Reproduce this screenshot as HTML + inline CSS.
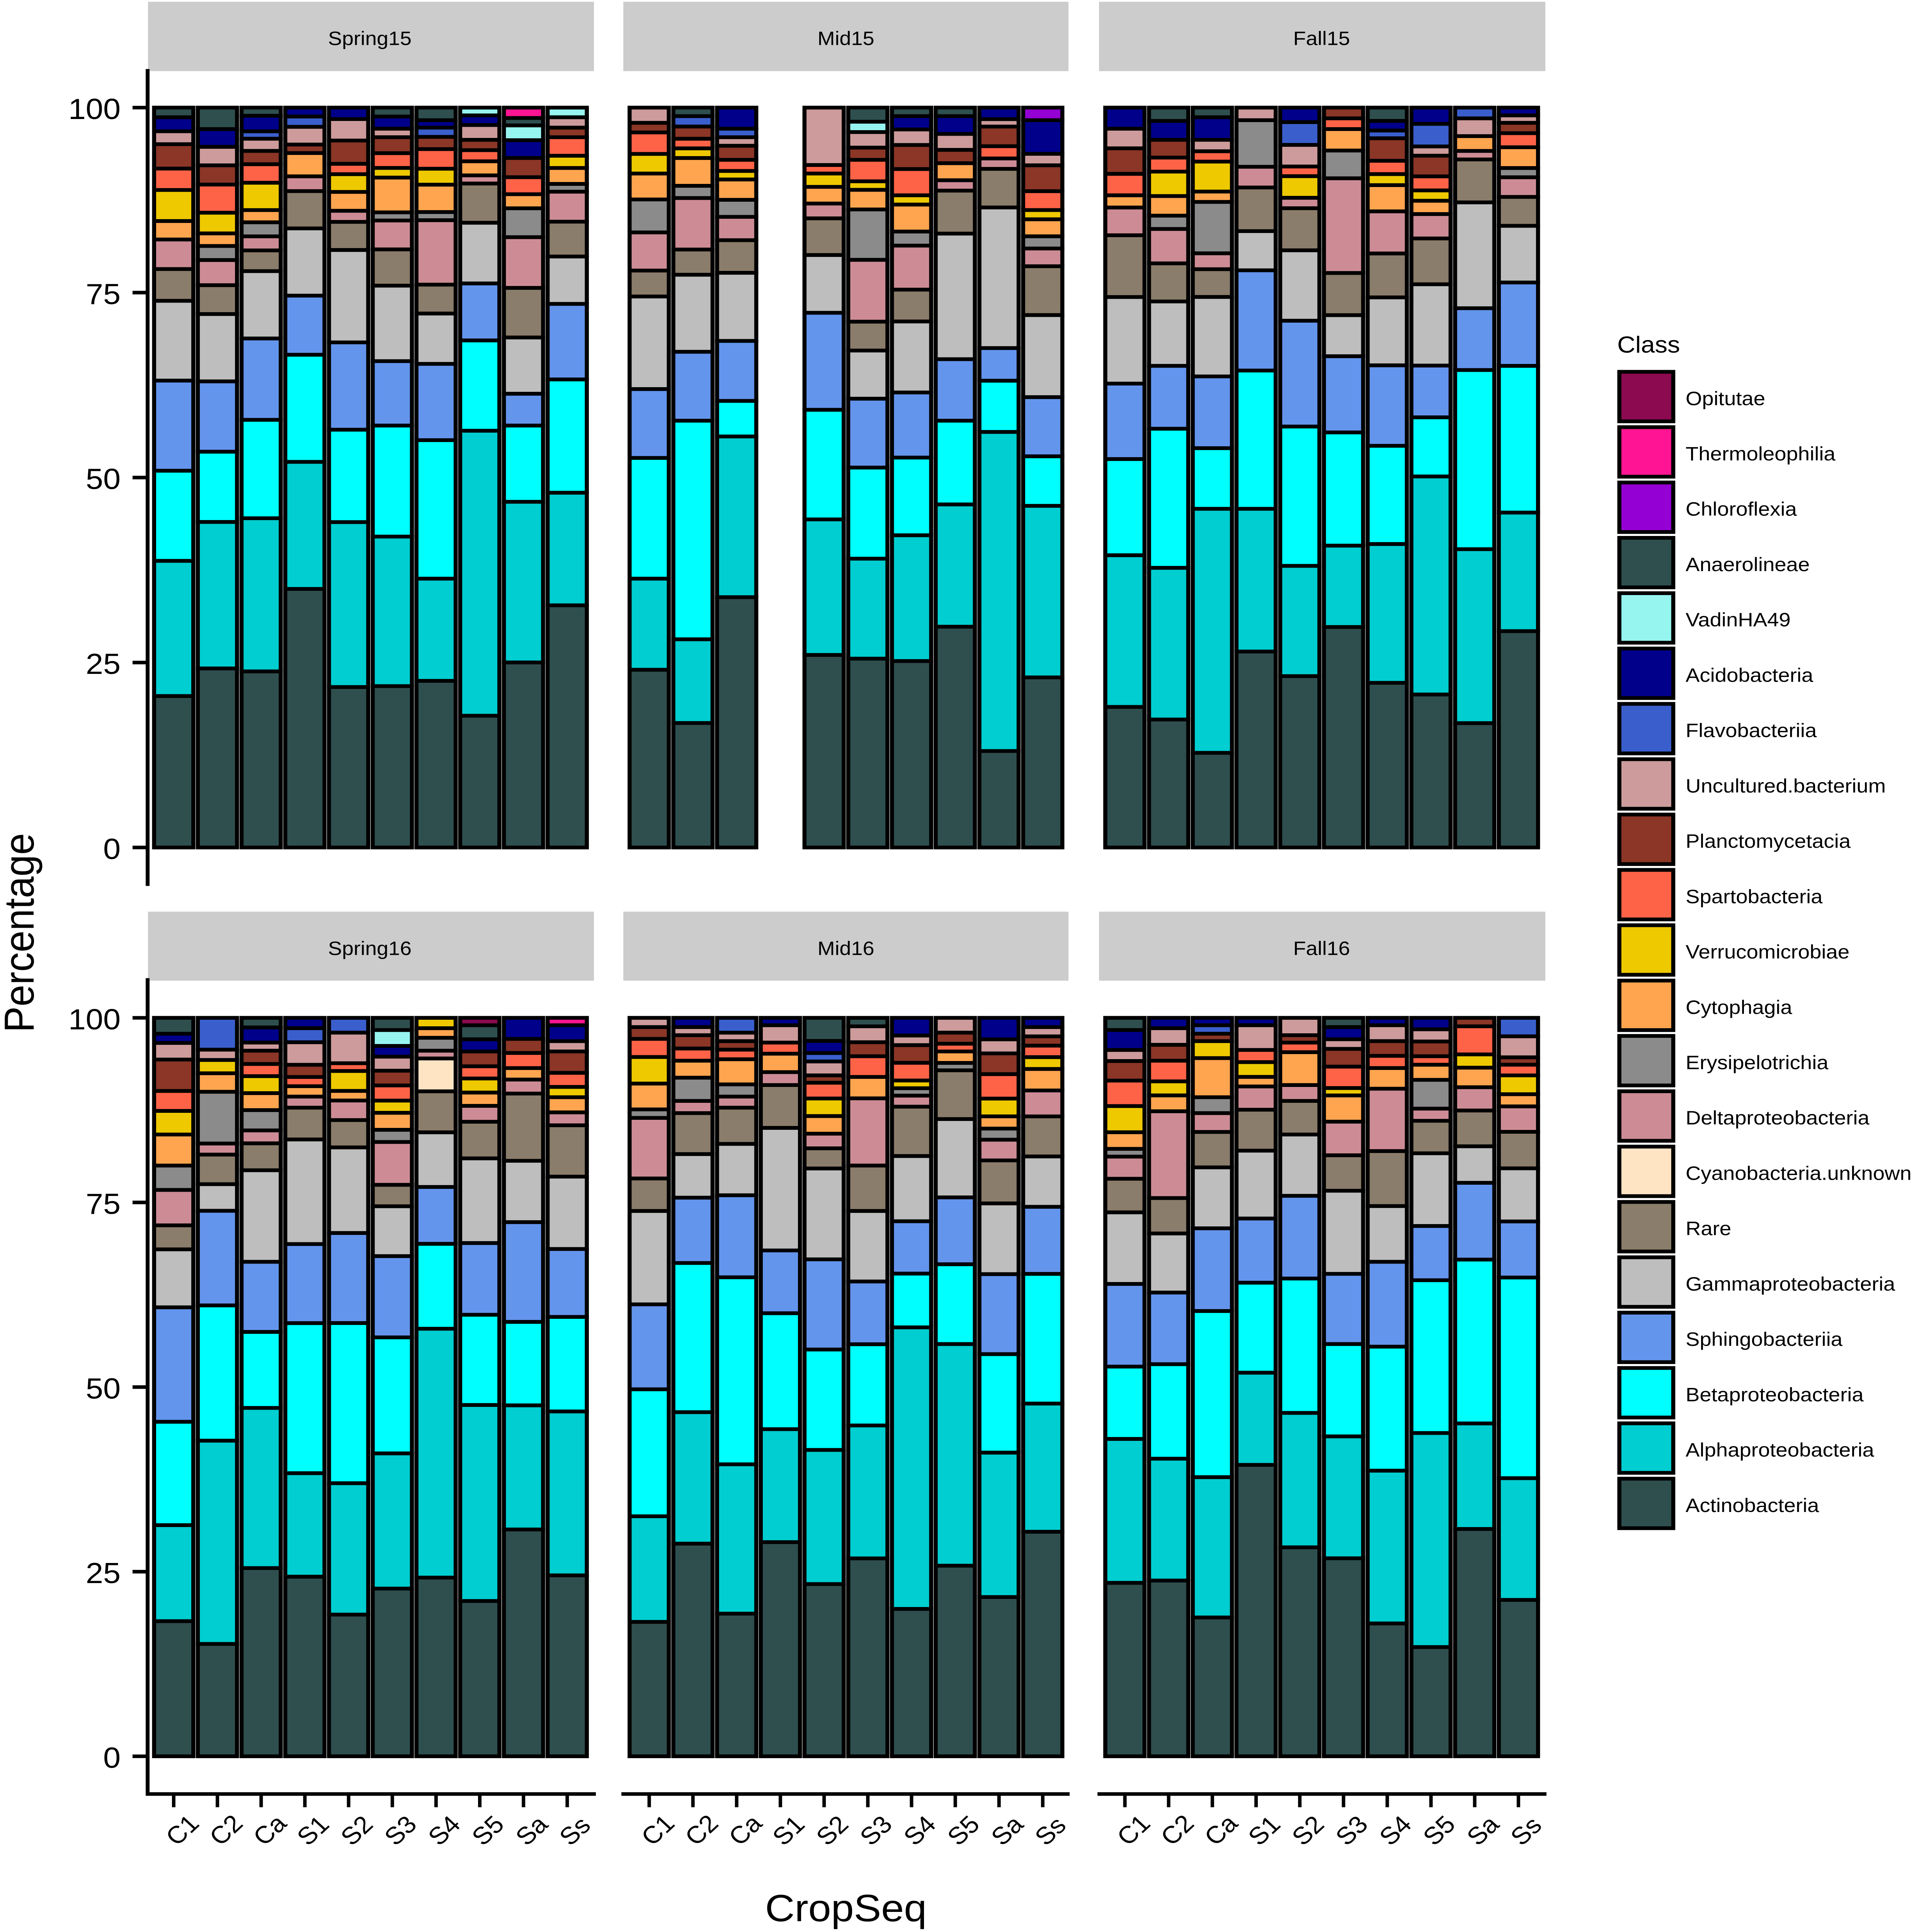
<!DOCTYPE html>
<html lang="en">
<head>
<meta charset="utf-8">
<title>Class composition by CropSeq</title>
<style>
html,body{margin:0;padding:0;background:#fff;width:100%;height:100%;overflow:hidden}
svg{display:block;width:100vw;height:100vh}
text{font-family:"Liberation Sans",sans-serif;fill:#000}
</style>
</head>
<body>
<svg id="chart" xmlns="http://www.w3.org/2000/svg" viewBox="0 0 4953 5404" preserveAspectRatio="none">
  <rect x="0" y="0" width="4953" height="5404" fill="#fff"/>
  <g fill="#cccccc">
    <rect x="383" y="5" width="1154" height="194"/>
    <rect x="1613" y="5" width="1152" height="194"/>
    <rect x="2844" y="5" width="1155" height="194"/>
    <rect x="383" y="2550" width="1154" height="193"/>
    <rect x="1613" y="2550" width="1152" height="193"/>
    <rect x="2844" y="2550" width="1155" height="193"/>
  </g>
  <g font-size="54" text-anchor="middle">
    <text x="957" y="126">Spring15</text>
    <text x="2189" y="126">Mid15</text>
    <text x="3420" y="126">Fall15</text>
    <text x="957" y="2671">Spring16</text>
    <text x="2189" y="2671">Mid16</text>
    <text x="3420" y="2671">Fall16</text>
  </g>
  <g id="bars"></g>
  <g id="axes"></g>
  <g id="legend"></g>
  <text x="4185" y="986" font-size="65">Class</text>
  <text transform="translate(87 2609) rotate(-90)" font-size="109" text-anchor="middle">Percentage</text>
  <text x="2189" y="5374" font-size="106" text-anchor="middle">CropSeq</text>
</svg>
<script>
const classKeys = ["Op","Th","Ch","An","Va","Ac","Fl","Un","Pl","Sp","Ve","Cy","Er","De","Cb","Ra","Ga","Sh","Be","Al","At"];
const classNames = ["Opitutae","Thermoleophilia","Chloroflexia","Anaerolineae","VadinHA49","Acidobacteria","Flavobacteriia","Uncultured.bacterium","Planctomycetacia","Spartobacteria","Verrucomicrobiae","Cytophagia","Erysipelotrichia","Deltaproteobacteria","Cyanobacteria.unknown","Rare","Gammaproteobacteria","Sphingobacteriia","Betaproteobacteria","Alphaproteobacteria","Actinobacteria"];
const classColors = ["#8B0A50","#FF1493","#9400D3","#2F4F4F","#97F5F0","#00008B","#3A5FCD","#CD9B9B","#8B3626","#FF6347","#EEC900","#FFA54F","#8B8B8B","#CD8C95","#FFE4C4","#8B7D6B","#BEBEBE","#6495ED","#00FFFF","#00CED1","#2F4F4F"];
const cropSeq = ["C1","C2","Ca","S1","S2","S3","S4","S5","Sa","Ss"];
const yTicks = [0,25,50,75,100];

const spring15 = [
{An:1.3,Ac:1.9,Un:1.75,Pl:3.3,Sp:2.9,Ve:4.2,Cy:2.5,De:4,Ra:4.3,Ga:10.8,Sh:12.2,Be:12.2,Al:18.3,At:20.5},
{An:2.9,Ac:2.4,Un:2.5,Pl:2.6,Sp:3.8,Ve:2.8,Cy:1.7,Er:1.9,De:3.4,Ra:3.9,Ga:9.1,Sh:9.5,Be:9.5,Al:19.8,At:24.2},
{An:1.1,Ac:2.1,Fl:1,Un:1.65,Pl:1.8,Sp:2.5,Ve:3.7,Cy:1.65,Er:1.9,De:1.9,Ra:2.8,Ga:9.1,Sh:11,Be:13.3,Al:20.7,At:23.8},
{Ac:1.2,Fl:1.4,Un:2.4,Pl:1.15,Cy:3.15,De:2,Ra:5.05,Ga:9.1,Sh:8,Be:14.5,Al:17.2,At:35},
{Ac:1.55,Un:2.9,Pl:3.15,Sp:1.4,Ve:2.4,Cy:2.55,De:1.5,Ra:3.8,Ga:12.5,Sh:11.8,Be:12.5,Al:22.3,At:21.7},
{An:1.2,Ac:1.65,Un:1.15,Pl:2.15,Sp:2,Ve:1.3,Cy:4.7,Er:1.1,De:3.9,Ra:4.9,Ga:10.2,Sh:8.7,Be:15,Al:20.2,At:21.8},
{An:1.7,Ac:1,Fl:1.25,Pl:1.65,Sp:2.65,Ve:2.15,Cy:3.7,Er:1.1,De:8.7,Ra:3.9,Ga:6.8,Sh:10.3,Be:18.7,Al:13.8,At:22.5},
{Va:1.05,Ac:1.3,Un:2,Pl:1.4,Sp:1.5,Cy:1.9,De:1.1,Ra:5.3,Ga:8.2,Sh:7.7,Be:12.2,Al:38.5,At:17.8},
{Th:1.4,An:1,Va:2,Ac:2.4,Pl:2.6,Sp:2.3,Cy:1.9,Er:3.9,De:6.85,Ra:6.7,Ga:7.6,Sh:4.3,Be:10.3,Al:21.7,At:25},
{Va:1.3,Un:1.4,Pl:1.3,Sp:2.5,Ve:1.65,Cy:2.15,Er:1.05,De:4.05,Ra:4.7,Ga:6.4,Sh:10.2,Be:15.3,Al:15.2,At:32.7}
];
const mid15 = [
{Un:2.05,Pl:1.3,Sp:2.9,Ve:2.65,Cy:3.5,Er:4.45,De:5.15,Ra:3.5,Ga:12.5,Sh:9.3,Be:16.3,Al:12.3,At:24},
{An:1.15,Fl:1.4,Pl:1.65,Sp:1.3,Ve:1.3,Cy:3.75,Er:1.65,De:6.95,Ra:3.4,Ga:10.4,Sh:9.3,Be:29.5,Al:11.3,At:16.8},
{Ac:2.85,Fl:1.15,Un:1.15,Pl:1.9,Sp:1.5,Ve:1.15,Cy:2.75,Er:2.3,De:3.15,Ra:4.4,Ga:9.2,Sh:8.1,Be:4.8,Al:21.7,At:33.8},
null,
{Un:7.75,Sp:1.15,Ve:1.8,Cy:2.25,De:2,Ra:4.95,Ga:7.8,Sh:13.1,Be:14.8,Al:18.3,At:26},
{An:1.9,Va:1.4,Un:2.1,Pl:1.65,Sp:2.9,Ve:1.15,Cy:2.65,Er:6.8,De:8.35,Ra:3.9,Ga:6.5,Sh:9.3,Be:12.3,Al:13.5,At:25.5},
{An:1.15,Ac:1.8,Un:2.1,Pl:3.25,Sp:3.55,Ve:1.25,Cy:3.65,Er:1.9,De:5.95,Ra:4.3,Ga:9.6,Sh:8.8,Be:10.5,Al:17,At:25.2},
{An:1.15,Ac:2.4,Un:2.15,Pl:1.8,Cy:2.3,De:1.4,Ra:5.8,Ga:16.95,Sh:8.3,Be:11.3,Al:16.5,At:29.8},
{Ac:1.55,Un:1,Pl:2.65,Sp:1.65,De:1.4,Ra:5.2,Ga:18.95,Sh:4.4,Be:6.9,Al:43,At:13},
{Ch:1.7,Ac:4.55,Un:1.55,Pl:3.5,Sp:2.55,Ve:1.25,Cy:2.3,Er:1.65,De:2.4,Ra:6.6,Ga:11.1,Sh:8,Be:6.7,Al:23.2,At:23}
];
const fall15 = [
{Ac:2.85,Un:2.65,Pl:3.45,Sp:2.9,Cy:1.65,De:3.75,Ra:8.35,Ga:11.7,Sh:10.2,Be:13,Al:20.5,At:19},
{An:1.8,Ac:2.55,Pl:2.4,Sp:1.9,Ve:3.3,Cy:2.65,Er:1.8,De:4.65,Ra:5.15,Ga:8.7,Sh:8.5,Be:18.8,Al:20.5,At:17.3},
{An:1.3,Ac:3.05,Un:1.55,Sp:1.4,Ve:4.05,Cy:1.4,Er:6.95,De:2.15,Ra:3.75,Ga:10.75,Sh:9.7,Be:8.2,Al:33,At:12.8},
{Un:1.7,Er:6.3,De:2.8,Ra:5.9,Ga:5.3,Sh:13.55,Be:18.7,Al:19.3,At:26.5},
{Ac:1.95,Fl:3.05,Un:2.9,Sp:1.3,Ve:2.9,De:1.4,Ra:5.65,Ga:9.45,Sh:14.2,Be:18.7,Al:14.8,At:23},
{Pl:1.45,Sp:1.45,Cy:2.9,Er:3.75,De:12.8,Ra:5.7,Ga:5.55,Sh:10.3,Be:15.3,Al:11,At:29.8},
{An:1.8,Ac:1.3,Fl:1.05,Pl:3.05,Sp:1.8,Ve:1.5,Cy:3.55,De:5.7,Ra:5.95,Ga:9.2,Sh:10.9,Be:13.3,Al:18.8,At:22.3},
{Ac:2.2,Fl:3.05,Un:1.25,Pl:2.8,Sp:1.9,Ve:1.4,Cy:1.8,De:3.3,Ra:6.2,Ga:11,Sh:7,Be:8,Al:29.5,At:20.7},
{Fl:1.45,Un:2.4,Cy:2,De:1.15,Ra:5.8,Ga:14.3,Sh:8.35,Be:24.2,Al:23.5,At:16.8},
{Ac:1.05,Un:1,Pl:1.4,Sp:1.9,Cy:2.8,Er:1.25,De:2.65,Ra:3.9,Ga:7.65,Sh:11.25,Be:19.8,Al:16,At:29.2}
];
const spring16 = [
{An:2.15,Ac:1.25,Un:2.25,Pl:4.25,Sp:2.7,Ve:3.2,Cy:4.2,Er:3.3,De:4.8,Ra:3.25,Ga:7.85,Sh:15.5,Be:14,Al:13,At:18.3},
{Fl:4.3,Un:1.4,Ve:1.8,Cy:2.5,Er:7,De:1.5,Ra:4,Ga:3.6,Sh:12.8,Be:18.3,Al:27.5,At:15.2},
{An:1.3,Ac:2.05,Un:1.1,Pl:1.8,Sp:1.65,Ve:2.3,Cy:2.3,Er:2.75,De:1.75,Ra:3.65,Ga:12.4,Sh:9.5,Be:10.3,Al:21.7,At:25.5},
{Ac:1.4,Fl:1.9,Un:3.05,Pl:1.65,Sp:1.25,Cy:1.4,De:1.5,Ra:4.3,Ga:14.15,Sh:10.7,Be:20.3,Al:14,At:24.3},
{Fl:2,Un:4.15,Sp:1.05,Ve:2.7,Cy:1.3,De:2.65,Ra:3.7,Ga:11.6,Sh:12.2,Be:21.7,Al:17.8,At:19.2},
{An:1.65,Va:2.15,Ac:1.45,Un:1.9,Pl:2,Sp:2.05,Ve:1.65,Cy:2.3,Er:1.65,De:5.8,Ra:2.9,Ga:6.75,Sh:11,Be:15.7,Al:18.3,At:22.7},
{Ve:1.4,Cy:1.3,Er:1.75,De:1.05,Cb:4.45,Ra:5.55,Ga:7.4,Sh:7.7,Be:11.5,Al:33.7,At:24.2},
{Op:1,An:1.9,Ac:1.65,Pl:2,Sp:1.65,Ve:1.9,Cy:1.8,De:2.15,Ra:4.95,Ga:11.45,Sh:9.7,Be:12.2,Al:26.5,At:21},
{Ac:2.85,Pl:1.9,Sp:2.05,Cy:1.55,De:1.9,Ra:9.1,Ga:8.3,Sh:13.5,Be:11.3,Al:16.8,At:30.7},
{Th:1,Ac:2.15,Un:1.4,Pl:2.9,Sp:1.9,Ve:1.4,Cy:2.05,De:1.75,Ra:6.95,Ga:9.8,Sh:9.2,Be:12.8,Al:22.2,At:24.5}
];
const mid16 = [
{Un:1.25,Pl:1.6,Sp:2.45,Ve:3.6,Cy:3.5,Er:1.15,De:8.2,Ra:4.4,Ga:12.65,Sh:11.5,Be:17.2,Al:14.3,At:18.2},
{Ac:1.25,Un:1.1,Pl:1.8,Sp:1.65,Cy:2.3,Er:3.15,De:1.65,Ra:5.55,Ga:5.9,Sh:8.85,Be:20.2,Al:17.8,At:28.8},
{Fl:2,Un:1.15,Pl:1.15,Sp:1.3,Cy:3.4,Er:1.65,De:1.5,Ra:4.9,Ga:6.95,Sh:11.1,Be:25.3,Al:20.2,At:19.3},
{Ac:1,Un:2.35,Sp:1.5,Cy:2.5,De:1.75,Ra:5.8,Ga:16.6,Sh:8.5,Be:15.7,Al:15.3,At:29},
{An:3.15,Ac:1.65,Fl:1.15,Un:1.9,Pl:1,Sp:2.15,Ve:2.4,Cy:2.4,De:2,Ra:2.75,Ga:12.4,Sh:12.3,Be:13.7,Al:18.3,At:23.5},
{An:1.15,Un:2.15,Pl:1.9,Sp:2.8,Cy:2.9,De:9.1,Ra:6.15,Ga:9.55,Sh:8.5,Be:11,Al:18,At:26.8},
{Ac:2.4,Un:1.3,Pl:2.4,Sp:2.4,Ve:1.05,Er:1,De:1.5,Ra:6.7,Ga:8.85,Sh:7.1,Be:7.3,Al:38.2,At:20},
{Un:2,Pl:1.5,Sp:1.05,Cy:1.55,Er:1,Ra:6.6,Ga:10.6,Sh:9.05,Be:10.8,Al:30,At:25.8},
{Ac:2.9,Un:1.9,Pl:2.8,Sp:3.3,Ve:2.4,Cy:1.65,Er:1.5,De:2.8,Ra:5.8,Ga:9.55,Sh:10.8,Be:13.3,Al:19.5,At:21.5},
{Ac:1.25,Un:1.25,Pl:1.25,Sp:1.55,Ve:1.6,Cy:2.9,De:3.5,Ra:5.4,Ga:6.8,Sh:9.05,Be:17.5,Al:17.3,At:30.3}
];
const fall16 = [
{An:1.65,Ac:2.7,Un:1.5,Pl:2.65,Sp:3.45,Ve:3.55,Cy:2.25,Er:1.05,De:3,Ra:4.55,Ga:9.7,Sh:11.2,Be:9.8,Al:19.5,At:23.5},
{Ac:1.4,Un:2.25,Pl:2.15,Sp:2.8,Ve:1.9,Cy:2.15,De:11.75,Ra:4.8,Ga:8,Sh:9.7,Be:12.8,Al:16.5,At:23.8},
{Ac:1,Fl:1.15,Pl:1,Ve:2.3,Cy:5.3,Er:2.15,De:2.55,Ra:4.8,Ga:8.25,Sh:11.2,Be:22.5,Al:19,At:18.8},
{Ac:1,Un:3.35,Sp:1.65,Ve:2,Cy:1.3,De:3.15,Ra:5.55,Ga:9.2,Sh:8.7,Be:12.2,Al:12.5,At:39.5},
{Un:2.35,Pl:1,Sp:1.3,Cy:4.45,De:2.15,Ra:4.55,Ga:8.3,Sh:11.2,Be:18.2,Al:18.2,At:28.3},
{An:1.25,Ac:1.65,Un:1.3,Pl:2.4,Sp:2.9,Ve:1,Cy:3.55,De:4.55,Ra:4.8,Ga:11.25,Sh:9.5,Be:12.5,Al:16.5,At:26.8},
{Ac:1,Un:2.15,Pl:2,Sp:1.65,Cy:2.8,De:8.45,Ra:7.45,Ga:7.55,Sh:11.5,Be:16.8,Al:20.7,At:18},
{Ac:1.55,Un:1.65,Pl:2,Sp:1.15,Cy:2.05,Er:3.9,De:1.65,Ra:4.4,Ga:9.85,Sh:7.35,Be:20.7,Al:29,At:14.8},
{Pl:1.15,Sp:3.8,Ve:1.8,Cy:2.65,De:3.15,Ra:4.85,Ga:4.95,Sh:10.4,Be:22.2,Al:14.3,At:30.8},
{Fl:2.5,Un:2.85,Pl:1,Sp:1.45,Ve:2.55,Cy:1.65,De:3.45,Ra:4.95,Ga:7.2,Sh:7.6,Be:27.2,Al:16.5,At:21.2}
];

const panelTitles = ["spring15","mid15","fall15","spring16","mid16","fall16"];
const panelSeries = [spring15,mid15,fall15,spring16,mid16,fall16];

const NS = "http://www.w3.org/2000/svg";
const firstBarX = [449.5,1680,2911];
const barStep = 113.15;
const barWidth = 101.5;
const rowY100 = [301,2847];
const rowY0 = [2370.5,4912.5];

function xScale(col, barIndex){ return firstBarX[col] + barIndex * barStep; }
function yScale(row, value){ return rowY0[row] + (rowY100[row] - rowY0[row]) * value / 100; }
function make(tag, attrs){
  const el = document.createElementNS(NS, tag);
  for (const k in attrs) el.setAttribute(k, attrs[k]);
  return el;
}

const barsGroup = document.getElementById("bars");
panelSeries.forEach((series, p) => {
  const col = p % 3;
  const row = Math.floor(p / 3);
  series.forEach((bar, b) => {
    if (!bar) return;
    let total = 0;
    classKeys.forEach(k => { total += bar[k] || 0; });
    let cum = 0;
    for (let c = classKeys.length - 1; c >= 0; c--) {
      const v = bar[classKeys[c]];
      if (!v) continue;
      const lo = cum / total * 100;
      const hi = (cum + v) / total * 100;
      cum += v;
      const rect = make("rect", {
        x: xScale(col, b) - barWidth / 2,
        y: yScale(row, hi),
        width: barWidth,
        height: yScale(row, lo) - yScale(row, hi),
        fill: classColors[c],
        stroke: "#000",
        "stroke-width": 10.5
      });
      
      
      barsGroup.appendChild(rect);
    }
  });
});

const axesGroup = document.getElementById("axes");
const axisStart = [193,2736];
const axisEnd = [2478,5023];
[0,1].forEach(row => {
  const yAxis = make("line", {x1:382, x2:382, y1:axisStart[row], y2:axisEnd[row], stroke:"#000", "stroke-width":10});
  
  
  axesGroup.appendChild(yAxis);
  yTicks.forEach(t => {
    const y = yScale(row, t);
    const tick = make("line", {x1:343, x2:380, y1:y, y2:y, stroke:"#000", "stroke-width":10});
    
    
    axesGroup.appendChild(tick);
    const label = make("text", {x:312, y:y + 32, "font-size":81, "text-anchor":"end"});
    
    
    label.textContent = String(t);
    axesGroup.appendChild(label);
  });
});

const xAxisFrom = [377,1608,2840];
const xAxisTo = [1542,2768,4002];
[0,1,2].forEach(col => {
  const xAxis = make("line", {x1:xAxisFrom[col], x2:xAxisTo[col], y1:5018, y2:5018, stroke:"#000", "stroke-width":10});
  
  
  axesGroup.appendChild(xAxis);
  cropSeq.forEach((name, b) => {
    const x = xScale(col, b);
    const tick = make("line", {x1:x, x2:x, y1:5020, y2:5055, stroke:"#000", "stroke-width":9});
    
    
    axesGroup.appendChild(tick);
    const label = make("text", {"font-size":68, transform:`translate(${x + 8} 5166) rotate(-45)`});
    
    
    label.textContent = name;
    axesGroup.appendChild(label);
  });
});

const legendGroup = document.getElementById("legend");
classNames.forEach((name, i) => {
  const top = 1040 + i * 154.8;
  const swatch = make("rect", {x:4190.5, y:top, width:139.5, height:138.5, fill:classColors[i], stroke:"#000", "stroke-width":10.5});
  
  
  legendGroup.appendChild(swatch);
  const label = make("text", {x:4362, y:1133 + i * 154.8, "font-size":54.5});
  
  
  label.textContent = name;
  legendGroup.appendChild(label);
});
</script>
</body>
</html>
